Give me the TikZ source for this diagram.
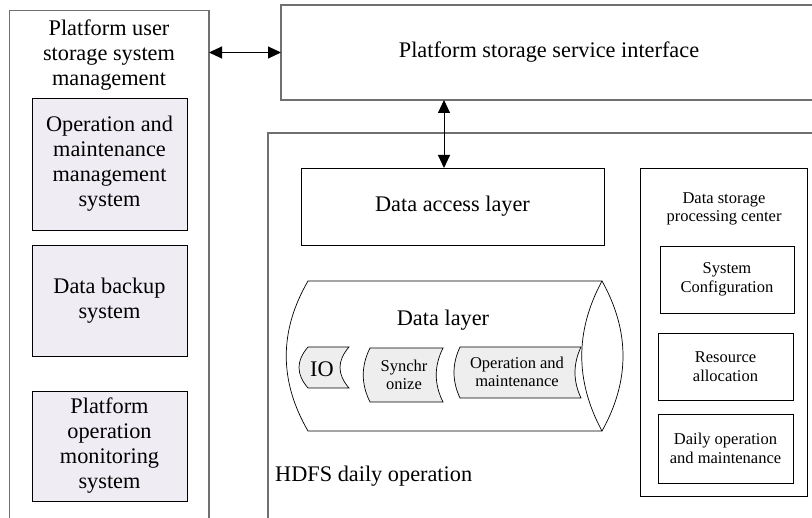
\documentclass[tikz,border=0pt]{standalone}
\usepackage{fontspec}
\setmainfont{Liberation Serif}
\usetikzlibrary{arrows.meta}
\definecolor{lav}{HTML}{EFEDF3}
\definecolor{tapefill}{HTML}{EEEEEE}
\definecolor{outerline}{HTML}{707070}
\begin{document}
\begin{tikzpicture}[x=1pt,y=-1pt,
  big/.style={font=\fontsize{22.3}{25}\selectfont, align=center},
  small/.style={font=\fontsize{16.5}{18.5}\selectfont, align=center},
  boxed/.style={draw=black, line width=0.8pt, inner sep=0pt, outer sep=0pt},
  outerbox/.style={draw=outerline, line width=1.3pt, inner sep=0pt, outer sep=0pt},
  shaded/.style={boxed, fill=lav},
  thin/.style={draw=black, line width=0.7pt},
  tape/.style={thin, fill=tapefill},
  biarrow/.style={line width=1pt, {Triangle[length=13pt,width=12pt]}-{Triangle[length=13pt,width=12pt]}}
]
\useasboundingbox (0,0) rectangle (812,518);
\clip (0,0) rectangle (812,518);
\fill[white] (0,0) rectangle (812,518);

% left column
\node[outerbox, minimum width=199.5pt, minimum height=520pt] (leftbox) at (109.25,270.7) {};
\node[big] (lefttitle) at (109,55.5) {Platform user\\storage system\\management};
\node[shaded, big, minimum width=155pt, minimum height=132pt] (omms) at (109.5,164) {Operation and\\maintenance\\management\\system};
\node[shaded, big, minimum width=155pt, minimum height=111pt] (dbs) at (109.5,300.5) {Data backup\\system};
\node[shaded, big, minimum width=155pt, minimum height=110pt] (poms) at (109.5,446) {Platform\\operation\\monitoring\\system};

% header
\node[outerbox, big, minimum width=536pt, minimum height=95pt] (hdr) at (549,52.5) {Platform storage service interface};

% HDFS box
\node[outerbox, minimum width=562pt, minimum height=397pt] (hdfs) at (549,331.5) {};
\node[big, anchor=west, inner sep=0pt] (hdfslabel) at (275,476) {HDFS daily operation};

% data access layer
\node[boxed, big, minimum width=303pt, minimum height=77pt] (dal) at (452.5,206.5) {Data access layer};

% data storage processing center
\node[boxed, minimum width=167pt, minimum height=328pt] (dspc) at (723.5,332) {};
\node[small] (dspctitle) at (724,209) {Data storage\\processing center};
\node[boxed, small, minimum width=134pt, minimum height=67pt] (sysconf) at (727,279.5) {System\\Configuration};
\node[boxed, small, minimum width=135pt, minimum height=67pt] (resalloc) at (725.5,366.5) {Resource\\allocation};
\node[boxed, small, minimum width=135pt, minimum height=69pt] (daily) at (725.5,448.5) {Daily operation\\and maintenance};

% data layer cylinder
\filldraw[thin, fill=white] (308,281) -- (602,281) .. controls (630,331) and (630,381) .. (602,431)
  -- (308,431) .. controls (279,381) and (279,331) .. (308,281) -- cycle;
\draw[thin] (602,281) .. controls (575,331) and (575,381) .. (602,431);
\node[big] (dl) at (443,320) {Data layer};

% tapes
\filldraw[tape] (308,347) -- (349,347) .. controls (337,361) and (337,374) .. (349,388)
  -- (308,388) .. controls (296,374) and (296,361) .. (308,347) -- cycle;
\node[big] (io) at (322,369) {IO};
\filldraw[tape] (370,348) -- (443,348) .. controls (434,366) and (434,384) .. (443,402)
  -- (370,402) .. controls (361,384) and (361,366) .. (370,348) -- cycle;
\node[small] (sync) at (404,375) {Synchr\\onize};
\filldraw[tape] (460,347) -- (581,347) .. controls (573,364) and (573,381) .. (581,398)
  -- (460,398) .. controls (452,381) and (452,364) .. (460,347) -- cycle;
\node[small] (opm) at (517,372) {Operation and\\maintenance};

% arrows
\draw[biarrow] (leftbox.east |- hdr.west) -- (hdr.west);
\coordinate (vx) at (444,0);
\draw[biarrow] (vx |- hdr.south) -- (vx |- dal.north);
\end{tikzpicture}
\end{document}
